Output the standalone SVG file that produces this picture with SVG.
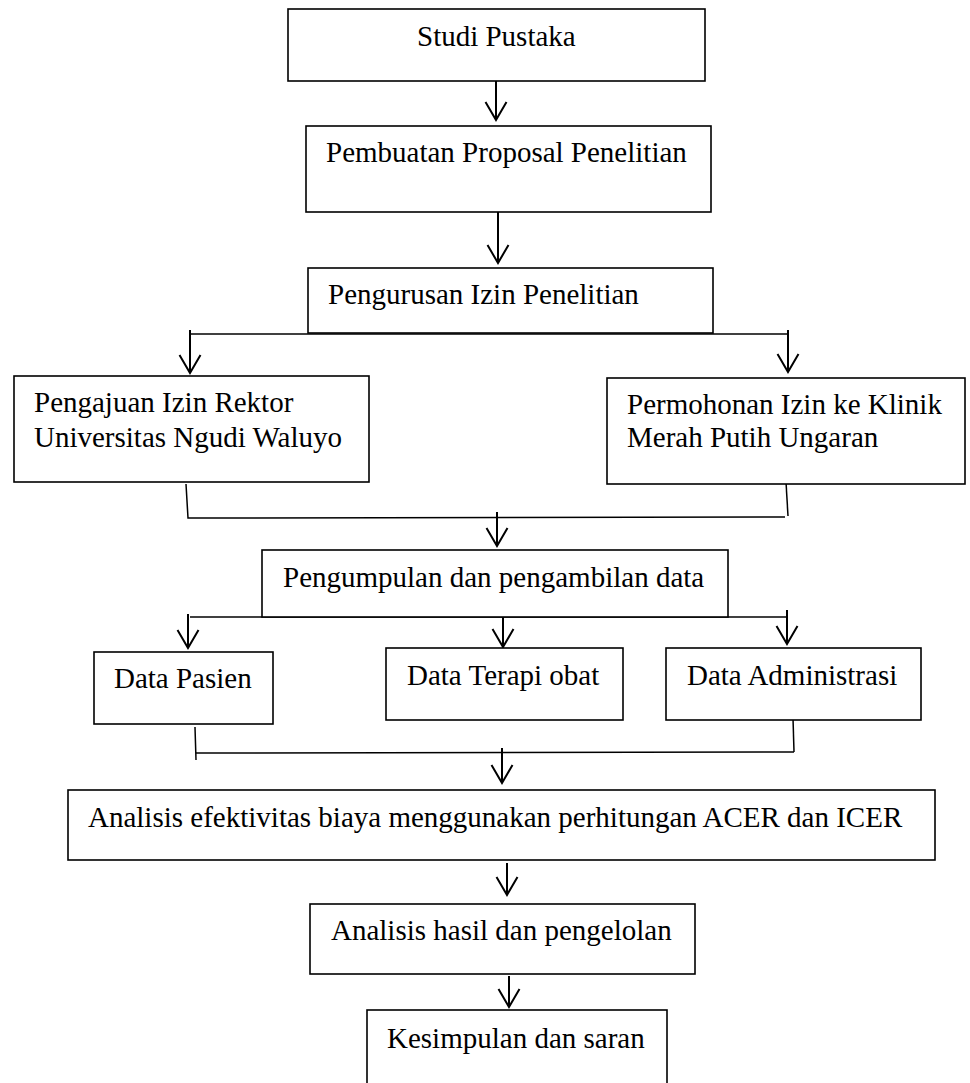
<svg xmlns="http://www.w3.org/2000/svg" width="970" height="1083" viewBox="0 0 970 1083">
<style>
.box{fill:#fff;stroke:#000;stroke-width:1.6}
.t{font-family:"Liberation Serif","Times New Roman",serif;font-size:29px;fill:#000}
.ln{fill:none;stroke:#000;stroke-width:1.5}
.ar{fill:none;stroke:#000;stroke-width:2;marker-end:url(#ah)}
</style>
<defs>
<marker id="ah" markerUnits="userSpaceOnUse" markerWidth="20" markerHeight="24" refX="18" refY="10.5" orient="auto" overflow="visible">
<path d="M0,0 L18,10.5 L0,21" fill="none" stroke="#000" stroke-width="2"/>
</marker>
</defs>
<rect width="970" height="1083" fill="#fff"/>
<g id="connectors">
<line class="ar" x1="496" y1="81" x2="496" y2="120"/>
<line class="ar" x1="498" y1="212" x2="498" y2="263"/>
<line class="ln" x1="190" y1="334" x2="788" y2="334"/>
<line class="ar" x1="190" y1="330" x2="190" y2="373"/>
<line class="ar" x1="788" y1="330" x2="788" y2="372"/>
<polyline class="ln" points="186,484 188,518 785,517"/>
<line class="ln" x1="786" y1="482" x2="788" y2="516"/>
<line class="ar" x1="497" y1="512" x2="497" y2="546"/>
<line class="ln" x1="190" y1="617" x2="787" y2="617"/>
<line class="ar" x1="188" y1="614" x2="188" y2="648"/>
<line class="ar" x1="503" y1="617" x2="503" y2="647"/>
<line class="ar" x1="787" y1="610" x2="787" y2="644"/>
<line class="ln" x1="195" y1="727" x2="196" y2="760"/>
<line class="ln" x1="196" y1="753" x2="794" y2="752"/>
<line class="ln" x1="793" y1="718" x2="794" y2="752"/>
<line class="ar" x1="502" y1="748" x2="502" y2="783"/>
<line class="ar" x1="507" y1="863" x2="507" y2="895"/>
<line class="ar" x1="509" y1="976" x2="509" y2="1007"/>
</g>
<g id="n1"><rect class="box" x="288" y="9" width="417" height="72"/><text class="t" x="417" y="46">Studi Pustaka</text></g>
<g id="n2"><rect class="box" x="306" y="126" width="405" height="86"/><text class="t" x="326" y="162">Pembuatan Proposal Penelitian</text></g>
<g id="n3"><rect class="box" x="308" y="268" width="405" height="65"/><text class="t" x="328" y="304">Pengurusan Izin Penelitian</text></g>
<g id="n4"><rect class="box" x="14" y="376" width="355" height="106"/><text class="t" x="34" y="412">Pengajuan Izin Rektor</text><text class="t" x="34" y="447">Universitas Ngudi Waluyo</text></g>
<g id="n5"><rect class="box" x="607" y="378" width="358" height="106"/><text class="t" x="627" y="414">Permohonan Izin ke Klinik</text><text class="t" x="627" y="447">Merah Putih Ungaran</text></g>
<g id="n6"><rect class="box" x="262" y="550" width="466" height="67"/><text class="t" x="283" y="587">Pengumpulan dan pengambilan data</text></g>
<g id="n7"><rect class="box" x="94" y="652" width="179" height="72"/><text class="t" x="114" y="688">Data Pasien</text></g>
<g id="n8"><rect class="box" x="386" y="648" width="237" height="72"/><text class="t" x="407" y="685">Data Terapi obat</text></g>
<g id="n9"><rect class="box" x="666" y="648" width="255" height="72"/><text class="t" x="687" y="685">Data Administrasi</text></g>
<g id="n10"><rect class="box" x="68" y="790" width="867" height="70"/><text class="t" x="88" y="827">Analisis efektivitas biaya menggunakan perhitungan ACER dan ICER</text></g>
<g id="n11"><rect class="box" x="310" y="904" width="385" height="70"/><text class="t" x="331" y="940">Analisis hasil dan pengelolan</text></g>
<g id="n12"><rect class="box" x="367" y="1010" width="300" height="90"/><text class="t" x="387" y="1048">Kesimpulan dan saran</text></g>
</svg>
